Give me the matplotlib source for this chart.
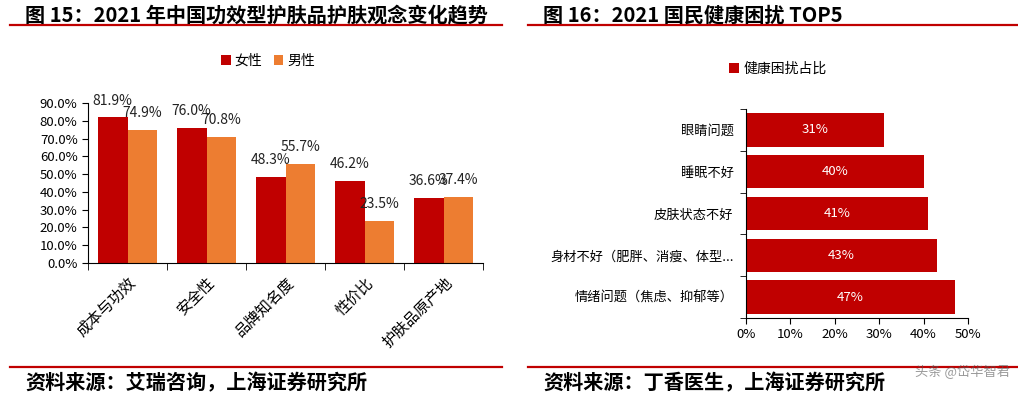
import matplotlib.pyplot as plt
import numpy as np
from matplotlib.ticker import FuncFormatter, FixedLocator

plt.rcParams['font.family'] = ['Noto Sans CJK SC', 'DejaVu Sans']

# 图15 数据
categories_15 = ['成本与功效', '安全性', '品牌知名度', '性价比', '护肤品原产地']
female = [81.9, 76.0, 48.3, 46.2, 36.6]
male = [74.9, 70.8, 55.7, 23.5, 37.4]

# 图16 数据
categories_16 = ['眼睛问题', '睡眠不好', '皮肤状态不好', '身材不好（肥胖、消瘦、体型...', '情绪问题（焦虑、抑郁等）']
share = [31, 40, 41, 43, 47]

red = '#C00000'
orange = '#ED7D31'
W, H = 1018, 395

fig = plt.figure(figsize=(W / 100, H / 100), dpi=100)


def px(x0, y_top, x1, y_bottom):
    return [x0 / W, 1 - y_bottom / H, (x1 - x0) / W, (y_bottom - y_top) / H]


# 标题和来源
fig.text(25 / W, 1 - 15 / H, '图 15：2021 年中国功效型护肤品护肤观念变化趋势',
         fontsize=14.5, fontweight='bold', va='center')
fig.text(543 / W, 1 - 15 / H, '图 16：2021 国民健康困扰 TOP5',
         fontsize=14.5, fontweight='bold', va='center')
for x0, x1 in [(10, 502), (528, 1018)]:
    fig.add_artist(plt.Line2D([x0 / W, x1 / W], [1 - 25 / H] * 2, color=red, lw=1.6))
    fig.add_artist(plt.Line2D([x0 / W, x1 / W], [1 - 367 / H] * 2, color=red, lw=1.6))
fig.text(25 / W, 1 - 383 / H, '资料来源：艾瑞咨询，上海证券研究所',
         fontsize=14.5, fontweight='bold', style='italic', va='center')
fig.text(543 / W, 1 - 383 / H, '资料来源：丁香医生，上海证券研究所',
         fontsize=14.5, fontweight='bold', style='italic', va='center')

# 左图
ax1 = fig.add_axes(px(88, 103, 483, 263))
x = np.arange(len(categories_15))
bw = 0.375
b1 = ax1.bar(x - bw / 2, female, bw, color=red, label='女性')
b2 = ax1.bar(x + bw / 2, male, bw, color=orange, label='男性')
for bars, vals in [(b1, female), (b2, male)]:
    for rect, v in zip(bars, vals):
        ax1.annotate(f'{v:.1f}%', (rect.get_x() + rect.get_width() / 2, v),
                     xytext=(0, 7), textcoords='offset points',
                     ha='center', va='bottom', fontsize=10, color='#222222')
ax1.set_xlim(-0.5, len(categories_15) - 0.5)
ax1.set_ylim(0, 90)
ax1.set_yticks(np.arange(0, 91, 10))
ax1.yaxis.set_major_formatter(FuncFormatter(lambda v, p: f'{v:.1f}%'))
ax1.set_xticks(x)
ax1.set_xticklabels(categories_15, rotation=45, ha='right', rotation_mode='anchor', fontsize=11)
ax1.tick_params(axis='x', length=0, pad=8)
ax1.xaxis.set_minor_locator(FixedLocator(np.arange(-0.5, len(categories_15), 1)))
ax1.tick_params(axis='x', which='minor', length=5, direction='out')
ax1.tick_params(axis='y', labelsize=9.5, length=4, direction='out')
for s in ['top', 'right']:
    ax1.spines[s].set_visible(False)
ax1.legend(loc='center', bbox_to_anchor=(268 / W, 1 - 61 / H), bbox_transform=fig.transFigure,
           ncol=2, frameon=False, fontsize=10, handlelength=0.7, handleheight=0.7,
           handletextpad=0.3, columnspacing=0.8)

# 右图
ax2 = fig.add_axes(px(746, 109, 968, 318))
y = np.arange(len(categories_16))
bars = ax2.barh(y, share, 0.8, color=red, label='健康困扰占比')
for rect, v in zip(bars, share):
    ax2.text(v / 2, rect.get_y() + rect.get_height() / 2, f'{v}%',
             ha='center', va='center', color='white', fontsize=9.5)
ax2.set_ylim(len(categories_16) - 0.5, -0.5)
ax2.set_xlim(0, 50)
ax2.set_xticks(np.arange(0, 51, 10))
ax2.xaxis.set_major_formatter(FuncFormatter(lambda v, p: f'{v:.0f}%'))
ax2.set_yticks(y)
ax2.set_yticklabels(categories_16, fontsize=9.5)
ax2.tick_params(axis='y', length=0, pad=9)
ax2.yaxis.set_minor_locator(FixedLocator(np.arange(-0.5, len(categories_16), 1)))
ax2.tick_params(axis='y', which='minor', length=4, direction='out')
ax2.tick_params(axis='x', labelsize=9.5, length=4, direction='out')
for s in ['top', 'right']:
    ax2.spines[s].set_visible(False)
ax2.legend(loc='center', bbox_to_anchor=(778 / W, 1 - 69 / H), bbox_transform=fig.transFigure,
           frameon=False, fontsize=10, handlelength=0.7, handleheight=0.7, handletextpad=0.3)

# 水印
fig.text(1010 / W, 1 - 372 / H, '头条 @岱华智君', fontsize=9.5, color='#555555', alpha=0.6,
         ha='right', va='center')

fig.savefig('out.png', dpi=100)
